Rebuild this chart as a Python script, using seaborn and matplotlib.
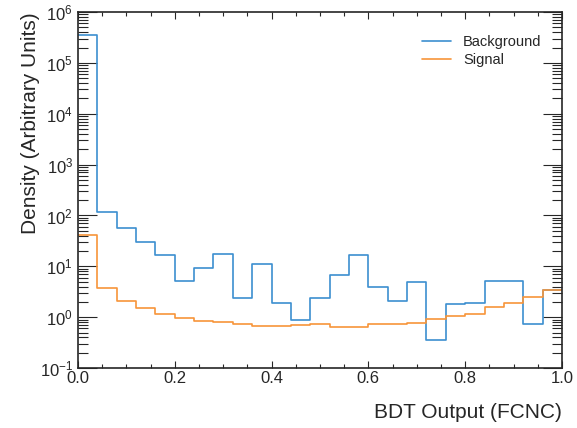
import numpy as np
import pandas as pd
import matplotlib
matplotlib.use("Agg")
import matplotlib.pyplot as plt
import seaborn as sns
from matplotlib.ticker import LogLocator, MultipleLocator, NullFormatter

n_bins = 25
x_range = (0.0, 1.0)
background = [3.5e5, 115, 56, 30.7, 16.8, 5.1, 9.2, 17.4, 2.37, 11.2, 1.89, 0.89, 2.37,
              6.8, 16.8, 3.84, 2.04, 5.0, 0.36, 1.78, 1.89, 5.26, 5.1, 0.72, 3.45]
signal = [41.6, 3.73, 2.04, 1.51, 1.18, 0.96, 0.85, 0.80, 0.73, 0.68, 0.68, 0.69, 0.72,
          0.65, 0.65, 0.73, 0.72, 0.77, 0.92, 1.08, 1.15, 1.58, 1.86, 2.48, 3.45]
labels = ["Background", "Signal"]
colors = ["#3c8fd0", "#f7953a"]

sns.set_style("ticks")
plt.rcParams["font.family"] = ["Liberation Sans", "DejaVu Sans"]
plt.rcParams["mathtext.fontset"] = "custom"
plt.rcParams["mathtext.rm"] = "Liberation Sans"

edges = np.linspace(x_range[0], x_range[1], n_bins + 1)
centers = 0.5 * (edges[:-1] + edges[1:])
df = pd.DataFrame({
    "x": np.concatenate([centers, centers]),
    "w": background + signal,
    "sample": [labels[0]] * n_bins + [labels[1]] * n_bins,
})

fig = plt.figure(figsize=(5.77, 4.28), dpi=100)
ax = fig.add_axes([0.135, 0.140, 0.839, 0.832])

for lab, col in zip(labels, colors):
    sub = df[df["sample"] == lab]
    sns.histplot(data=sub, x="x", weights="w", bins=n_bins, binrange=x_range,
                 element="step", fill=False, color=col, linewidth=1.2, ax=ax, label=lab)

ax.set_yscale("log")
ax.set_xlim(0, 1)
ax.set_ylim(0.1, 1e6)
ax.xaxis.set_major_locator(MultipleLocator(0.2))
ax.xaxis.set_minor_locator(MultipleLocator(0.05))
ax.yaxis.set_major_locator(LogLocator(base=10, numticks=20))
ax.yaxis.set_minor_locator(LogLocator(base=10, subs=np.arange(2, 10), numticks=20))
ax.yaxis.set_minor_formatter(NullFormatter())
ax.tick_params(axis="both", which="both", direction="in", top=True, right=True,
               labelsize=12, width=0.8)
ax.tick_params(axis="x", which="major", length=5, pad=2)
ax.tick_params(axis="x", which="minor", length=3)
ax.tick_params(axis="y", which="major", length=14)
ax.tick_params(axis="y", which="minor", length=7)
for s in ax.spines.values():
    s.set_linewidth(1.2)

ax.set_xlabel("BDT Output (FCNC)", fontsize=15, loc="right", labelpad=12)
ax.set_ylabel("Density (Arbitrary Units)", fontsize=15, loc="top", labelpad=0)
ax.legend(loc="upper right", frameon=False, fontsize=10.5, bbox_to_anchor=(0.985, 0.972),
          handlelength=2.0, labelspacing=0.25, handletextpad=0.8)

fig.savefig("out.png", dpi=100)
